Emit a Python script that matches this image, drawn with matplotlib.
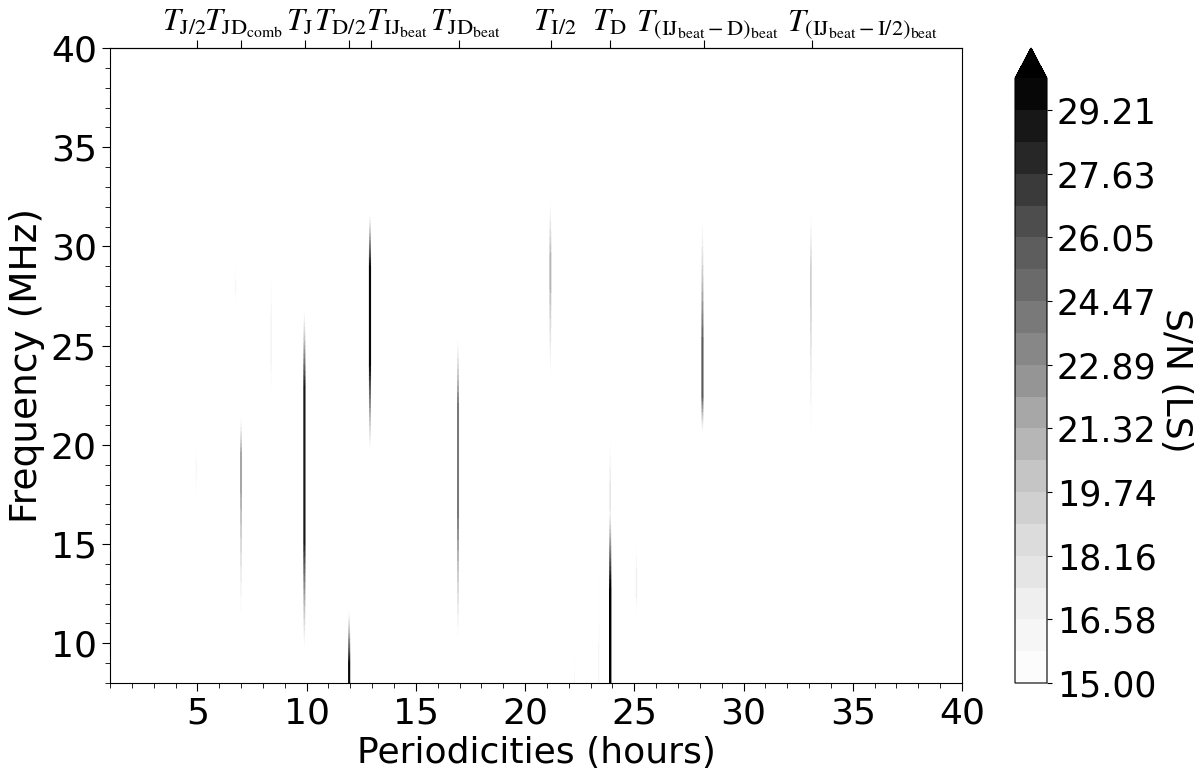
import numpy as np
import matplotlib
matplotlib.use('Agg')
import matplotlib.pyplot as plt
from matplotlib.ticker import MultipleLocator
from matplotlib.transforms import blended_transform_factory

# Периоды, отмеченные сверху (часы) и их подписи
top_periods = [4.97, 7.0, 9.93, 11.95, 12.95, 16.98, 21.18, 23.9, 28.2, 33.15]
top_labels = [r'$T_{\rm J/2}$', r'$T_{\rm JD_{comb}}$', r'$T_{\rm J}$', r'$T_{\rm D/2}$',
              r'$T_{\rm IJ_{beat}}$', r'$T_{\rm JD_{beat}}$', r'$T_{\rm I/2}$', r'$T_{\rm D}$',
              r'$T_{\rm (IJ_{beat}-D)_{beat}}$', r'$T_{\rm (IJ_{beat}-I/2)_{beat}}$']
# где стоят центры подписей (в часах), они сдвинуты относительно рисок
top_label_x = [4.4, 7.1, 9.7, 11.55, 14.15, 17.25, 21.35, 23.85, 28.35, 35.45]

# Полосы в периодограмме: период, границы по частоте, ядро и пиковое S/N
streak_period = [4.95, 6.75, 7.0, 8.38, 9.9, 11.95, 12.9, 16.93, 21.16, 22.26, 23.37, 23.9, 23.9, 25.1, 28.12, 33.08]
streak_f_lo = [17.4, 27.0, 11.6, 22.9, 9.7, 6.0, 19.8, 10.4, 23.4, 6.0, 6.0, 15.5, 6.0, 11.6, 20.6, 20.8]
streak_core_lo = [18.5, 27.8, 18.0, 24.5, 15.0, 7.0, 24.0, 16.5, 28.0, 7.0, 7.0, 16.8, 7.0, 12.5, 22.5, 27.0]
streak_core_hi = [19.0, 28.2, 19.5, 26.0, 23.0, 9.0, 29.0, 22.0, 29.5, 8.5, 10.0, 18.0, 12.5, 13.5, 25.0, 29.0]
streak_f_hi = [19.9, 29.0, 21.3, 28.2, 26.8, 11.6, 31.6, 25.2, 32.3, 9.2, 13.4, 20.1, 17.0, 14.9, 31.3, 31.5]
streak_peak = [16.0, 16.0, 22.0, 16.5, 28.5, 29.5, 29.5, 24.0, 21.0, 15.8, 15.8, 17.5, 32.0, 17.0, 26.0, 19.0]

periods = np.linspace(1, 40, 3901)
freqs = np.linspace(8, 40, 321)
P, F = np.meshgrid(periods, freqs)

base = 10.0
sigma = 0.032
snr = np.full(P.shape, base)
for p0, a, b, c, d, pk in zip(streak_period, streak_f_lo, streak_core_lo,
                              streak_core_hi, streak_f_hi, streak_peak):
    v = np.interp(freqs, [a - 10, a, b, c, d, d + 10], [base, 15, pk, pk, 15, base])
    g = np.exp(-(periods - p0) ** 2 / (2 * sigma ** 2))
    snr = np.maximum(snr, base + (v[:, None] - base) * g[None, :])

levels = np.linspace(15, 30, 20)

plt.rcParams['mathtext.fontset'] = 'stix'
fig = plt.figure(figsize=(12, 7.8), dpi=100)
ax = fig.add_axes([110 / 1200, 1 - 683 / 780, 852 / 1200, 635 / 780])
cs = ax.contourf(P, F, snr, levels=levels, cmap='Greys', extend='max')

ax.set_xlim(1, 40)
ax.set_ylim(8, 40)
ax.xaxis.set_major_locator(MultipleLocator(5))
ax.xaxis.set_minor_locator(MultipleLocator(1))
ax.yaxis.set_major_locator(MultipleLocator(5))
ax.yaxis.set_minor_locator(MultipleLocator(1))
ax.tick_params(which='major', labelsize=26, length=6)
ax.tick_params(which='minor', length=3.5)
ax.tick_params(axis='x', which='major', pad=4)
ax.set_xlabel('Periodicities (hours)', fontsize=26, labelpad=4)
ax.set_ylabel('Frequency (MHz)', fontsize=27, labelpad=4)

sec = ax.secondary_xaxis('top')
sec.set_xticks(top_periods)
sec.set_xticklabels([''] * len(top_periods))
sec.tick_params(length=6)

trans = blended_transform_factory(ax.transData, ax.transAxes)
for x, lab in zip(top_label_x, top_labels):
    ax.text(x, 1.027, lab, transform=trans, ha='center', va='baseline', fontsize=23)

cax = fig.add_axes([1015 / 1200, 1 - 683 / 780, 32 / 1200, 635 / 780])
cb = fig.colorbar(cs, cax=cax, ticks=levels[::2], format='%.2f')
cb.ax.tick_params(labelsize=25)
cb.set_label('S/N (LS)', fontsize=26, rotation=270, labelpad=26)

fig.savefig('out.png', dpi=100)
